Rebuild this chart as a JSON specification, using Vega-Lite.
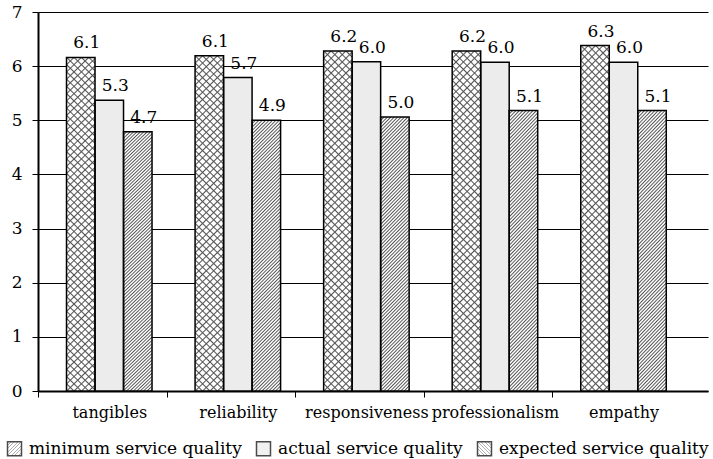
{
"$schema":"https://vega.github.io/schema/vega-lite/v6.json",
"width":670,"height":379,
"autosize":"none",
"padding":{"left":38,"top":12,"right":5,"bottom":68},
"background":"white",
"config":{"font":"DejaVu Serif","view":{"stroke":null},
"axis":{"labelFont":"DejaVu Serif","labelFontSize":17,"labelColor":"black","domainColor":"black","tickColor":"black","gridColor":"black","title":null}},
"params":[{"name":"st","value":[
{"offset":0,"color":"#555"},{"offset":0.004,"color":"#5550"},{"offset":0.016,"color":"#5550"},
{"offset":0.02,"color":"#555"},{"offset":0.024,"color":"#5550"},{"offset":0.036,"color":"#5550"},
{"offset":0.04,"color":"#555"},{"offset":0.044,"color":"#5550"},{"offset":0.056,"color":"#5550"},
{"offset":0.06,"color":"#555"},{"offset":0.064,"color":"#5550"},{"offset":0.076,"color":"#5550"},
{"offset":0.08,"color":"#555"},{"offset":0.084,"color":"#5550"},{"offset":0.096,"color":"#5550"},
{"offset":0.1,"color":"#555"},{"offset":0.104,"color":"#5550"},{"offset":0.116,"color":"#5550"},
{"offset":0.12,"color":"#555"},{"offset":0.124,"color":"#5550"},{"offset":0.136,"color":"#5550"},
{"offset":0.14,"color":"#555"},{"offset":0.144,"color":"#5550"},{"offset":0.156,"color":"#5550"},
{"offset":0.16,"color":"#555"},{"offset":0.164,"color":"#5550"},{"offset":0.176,"color":"#5550"},
{"offset":0.18,"color":"#555"},{"offset":0.184,"color":"#5550"},{"offset":0.196,"color":"#5550"},
{"offset":0.2,"color":"#555"},{"offset":0.204,"color":"#5550"},{"offset":0.216,"color":"#5550"},
{"offset":0.22,"color":"#555"},{"offset":0.224,"color":"#5550"},{"offset":0.236,"color":"#5550"},
{"offset":0.24,"color":"#555"},{"offset":0.244,"color":"#5550"},{"offset":0.256,"color":"#5550"},
{"offset":0.26,"color":"#555"},{"offset":0.264,"color":"#5550"},{"offset":0.276,"color":"#5550"},
{"offset":0.28,"color":"#555"},{"offset":0.284,"color":"#5550"},{"offset":0.296,"color":"#5550"},
{"offset":0.3,"color":"#555"},{"offset":0.304,"color":"#5550"},{"offset":0.316,"color":"#5550"},
{"offset":0.32,"color":"#555"},{"offset":0.324,"color":"#5550"},{"offset":0.336,"color":"#5550"},
{"offset":0.34,"color":"#555"},{"offset":0.344,"color":"#5550"},{"offset":0.356,"color":"#5550"},
{"offset":0.36,"color":"#555"},{"offset":0.364,"color":"#5550"},{"offset":0.376,"color":"#5550"},
{"offset":0.38,"color":"#555"},{"offset":0.384,"color":"#5550"},{"offset":0.396,"color":"#5550"},
{"offset":0.4,"color":"#555"},{"offset":0.404,"color":"#5550"},{"offset":0.416,"color":"#5550"},
{"offset":0.42,"color":"#555"},{"offset":0.424,"color":"#5550"},{"offset":0.436,"color":"#5550"},
{"offset":0.44,"color":"#555"},{"offset":0.444,"color":"#5550"},{"offset":0.456,"color":"#5550"},
{"offset":0.46,"color":"#555"},{"offset":0.464,"color":"#5550"},{"offset":0.476,"color":"#5550"},
{"offset":0.48,"color":"#555"},{"offset":0.484,"color":"#5550"},{"offset":0.496,"color":"#5550"},
{"offset":0.5,"color":"#555"},{"offset":0.504,"color":"#5550"},{"offset":0.516,"color":"#5550"},
{"offset":0.52,"color":"#555"},{"offset":0.524,"color":"#5550"},{"offset":0.536,"color":"#5550"},
{"offset":0.54,"color":"#555"},{"offset":0.544,"color":"#5550"},{"offset":0.556,"color":"#5550"},
{"offset":0.56,"color":"#555"},{"offset":0.564,"color":"#5550"},{"offset":0.576,"color":"#5550"},
{"offset":0.58,"color":"#555"},{"offset":0.584,"color":"#5550"},{"offset":0.596,"color":"#5550"},
{"offset":0.6,"color":"#555"},{"offset":0.604,"color":"#5550"},{"offset":0.616,"color":"#5550"},
{"offset":0.62,"color":"#555"},{"offset":0.624,"color":"#5550"},{"offset":0.636,"color":"#5550"},
{"offset":0.64,"color":"#555"},{"offset":0.644,"color":"#5550"},{"offset":0.656,"color":"#5550"},
{"offset":0.66,"color":"#555"},{"offset":0.664,"color":"#5550"},{"offset":0.676,"color":"#5550"},
{"offset":0.68,"color":"#555"},{"offset":0.684,"color":"#5550"},{"offset":0.696,"color":"#5550"},
{"offset":0.7,"color":"#555"},{"offset":0.704,"color":"#5550"},{"offset":0.716,"color":"#5550"},
{"offset":0.72,"color":"#555"},{"offset":0.724,"color":"#5550"},{"offset":0.736,"color":"#5550"},
{"offset":0.74,"color":"#555"},{"offset":0.744,"color":"#5550"},{"offset":0.756,"color":"#5550"},
{"offset":0.76,"color":"#555"},{"offset":0.764,"color":"#5550"},{"offset":0.776,"color":"#5550"},
{"offset":0.78,"color":"#555"},{"offset":0.784,"color":"#5550"},{"offset":0.796,"color":"#5550"},
{"offset":0.8,"color":"#555"},{"offset":0.804,"color":"#5550"},{"offset":0.816,"color":"#5550"},
{"offset":0.82,"color":"#555"},{"offset":0.824,"color":"#5550"},{"offset":0.836,"color":"#5550"},
{"offset":0.84,"color":"#555"},{"offset":0.844,"color":"#5550"},{"offset":0.856,"color":"#5550"},
{"offset":0.86,"color":"#555"},{"offset":0.864,"color":"#5550"},{"offset":0.876,"color":"#5550"},
{"offset":0.88,"color":"#555"},{"offset":0.884,"color":"#5550"},{"offset":0.896,"color":"#5550"},
{"offset":0.9,"color":"#555"},{"offset":0.904,"color":"#5550"},{"offset":0.916,"color":"#5550"},
{"offset":0.92,"color":"#555"},{"offset":0.924,"color":"#5550"},{"offset":0.936,"color":"#5550"},
{"offset":0.94,"color":"#555"},{"offset":0.944,"color":"#5550"},{"offset":0.956,"color":"#5550"},
{"offset":0.96,"color":"#555"},{"offset":0.964,"color":"#5550"},{"offset":0.976,"color":"#5550"},
{"offset":0.98,"color":"#555"},{"offset":0.984,"color":"#5550"},{"offset":0.996,"color":"#5550"},
{"offset":1,"color":"#555"}
]},
{"name":"gmin","value":{"id":"gmin","gradient":"linear","x1":0,"y1":0,"x2":1,"y2":1,"stops":[{"offset":0,"color":"#555"},{"offset":0.025,"color":"#fff"},{"offset":0.1,"color":"#fff"},{"offset":0.125,"color":"#555"},{"offset":0.15,"color":"#fff"},{"offset":0.225,"color":"#fff"},{"offset":0.25,"color":"#555"},{"offset":0.275,"color":"#fff"},{"offset":0.35,"color":"#fff"},{"offset":0.375,"color":"#555"},{"offset":0.4,"color":"#fff"},{"offset":0.475,"color":"#fff"},{"offset":0.5,"color":"#555"},{"offset":0.525,"color":"#fff"},{"offset":0.6,"color":"#fff"},{"offset":0.625,"color":"#555"},{"offset":0.65,"color":"#fff"},{"offset":0.725,"color":"#fff"},{"offset":0.75,"color":"#555"},{"offset":0.775,"color":"#fff"},{"offset":0.85,"color":"#fff"},{"offset":0.875,"color":"#555"},{"offset":0.9,"color":"#fff"},{"offset":0.975,"color":"#fff"},{"offset":1,"color":"#555"}]}},
{"name":"gexp","value":{"id":"gexp","gradient":"linear","x1":0,"y1":1,"x2":1,"y2":0,"stops":[{"offset":0,"color":"#555"},{"offset":0.025,"color":"#fff"},{"offset":0.1,"color":"#fff"},{"offset":0.125,"color":"#555"},{"offset":0.15,"color":"#fff"},{"offset":0.225,"color":"#fff"},{"offset":0.25,"color":"#555"},{"offset":0.275,"color":"#fff"},{"offset":0.35,"color":"#fff"},{"offset":0.375,"color":"#555"},{"offset":0.4,"color":"#fff"},{"offset":0.475,"color":"#fff"},{"offset":0.5,"color":"#555"},{"offset":0.525,"color":"#fff"},{"offset":0.6,"color":"#fff"},{"offset":0.625,"color":"#555"},{"offset":0.65,"color":"#fff"},{"offset":0.725,"color":"#fff"},{"offset":0.75,"color":"#555"},{"offset":0.775,"color":"#fff"},{"offset":0.85,"color":"#fff"},{"offset":0.875,"color":"#555"},{"offset":0.9,"color":"#fff"},{"offset":0.975,"color":"#fff"},{"offset":1,"color":"#555"}]}}
],
"data":{"values":[
{"aspect":"tangibles","series":"expected service quality","value":6.16,"label":"6.1"},
{"aspect":"tangibles","series":"actual service quality","value":5.37,"label":"5.3"},
{"aspect":"tangibles","series":"minimum service quality","value":4.79,"label":"4.7"},
{"aspect":"reliability","series":"expected service quality","value":6.19,"label":"6.1"},
{"aspect":"reliability","series":"actual service quality","value":5.79,"label":"5.7"},
{"aspect":"reliability","series":"minimum service quality","value":5.0,"label":"4.9"},
{"aspect":"responsiveness","series":"expected service quality","value":6.28,"label":"6.2"},
{"aspect":"responsiveness","series":"actual service quality","value":6.08,"label":"6.0"},
{"aspect":"responsiveness","series":"minimum service quality","value":5.06,"label":"5.0"},
{"aspect":"professionalism","series":"expected service quality","value":6.28,"label":"6.2"},
{"aspect":"professionalism","series":"actual service quality","value":6.07,"label":"6.0"},
{"aspect":"professionalism","series":"minimum service quality","value":5.18,"label":"5.1"},
{"aspect":"empathy","series":"expected service quality","value":6.38,"label":"6.3"},
{"aspect":"empathy","series":"actual service quality","value":6.07,"label":"6.0"},
{"aspect":"empathy","series":"minimum service quality","value":5.18,"label":"5.1"}
]},
"encoding":{
"x":{"field":"aspect","type":"nominal","scale":{"domain":["tangibles","reliability","responsiveness","professionalism","empathy"],"paddingInner":0,"paddingOuter":0.1058,"align":0.257},
"axis":{"title":null,"labelAngle":0,"bandPosition":0,"tickOffset":-7,"labelOffset":7,"tickSize":6,"domainWidth":2,"labelPadding":7,"labelFontSize":16,"grid":false}},
"xOffset":{"field":"series","type":"nominal","scale":{"domain":["expected service quality","actual service quality","minimum service quality"],"paddingInner":0,"paddingOuter":0.755}},
"y":{"field":"value","type":"quantitative","scale":{"domain":[0,7],"nice":false},
"axis":{"title":null,"values":[0,1,2,3,4,5,6,7],"tickSize":6,"domainWidth":2,"labelPadding":10,"grid":true,"gridWidth":1,"gridOpacity":1}}
},
"layer":[
{"transform":[{"filter":"datum.aspect === 'tangibles' && datum.series === 'minimum service quality'"}],
 "mark":{"type":"bar","strokeWidth":0,"fill":{"expr":"gmin"}}},
{"transform":[{"filter":"datum.aspect === 'tangibles' && datum.series === 'expected service quality'"}],
 "mark":{"type":"bar","strokeWidth":0,"fill":{"expr":"gexp"}}},
{"mark":{"type":"bar","strokeWidth":0},
 "encoding":{"fill":{"condition":{"test":"datum.series === 'actual service quality'","value":"#ececec"},"value":"white"}}},
{"transform":[{"filter":"datum.series === 'expected service quality'"}],
 "mark":{"type":"bar","strokeWidth":0,"fill":{"expr":"{gradient:'linear',x1:0,y1:1,x2:0.0905,y2:-0.08,stops:st}"}}},
{"transform":[{"filter":"datum.series === 'expected service quality'"}],
 "mark":{"type":"bar","strokeWidth":0,"fill":{"expr":"{gradient:'linear',x1:0,y1:0,x2:0.0905,y2:1.08,stops:st}"}}},
{"transform":[{"filter":"datum.series === 'minimum service quality'"}],
 "mark":{"type":"bar","strokeWidth":0,"fill":{"expr":"{gradient:'linear',x1:0,y1:0,x2:0.132,y2:1.25,stops:st}"}}},
{"transform":[{"filter":"datum.series === 'minimum service quality'"}],
 "mark":{"type":"bar","strokeWidth":0,"fill":{"expr":"{gradient:'linear',x1:0,y1:-0.01264,x2:0.132,y2:1.2374,stops:st}"}}},
{"mark":{"type":"bar","fill":"transparent","stroke":"black","strokeWidth":1.5}},
{"mark":{"type":"text","dx":6,"dy":-9,"baseline":"alphabetic","fontSize":17,"font":"DejaVu Serif","color":"black"},
 "encoding":{"text":{"field":"label"}}},
{"transform":[{"filter":"false"}],
 "mark":{"type":"square"},
 "encoding":{"fill":{"field":"series","type":"nominal",
  "scale":{"domain":["minimum service quality","actual service quality","expected service quality"],
   "range":["url(#gmin)","#ececec","url(#gexp)"]},
  "legend":{"orient":"none","legendX":-32,"legendY":428,"direction":"horizontal","title":null,"padding":0,
   "labelFont":"DejaVu Serif","labelFontSize":17,"labelColor":"black","labelLimit":400,"labelOffset":6,
   "symbolSize":196,"symbolType":"square","symbolStrokeColor":"black","symbolStrokeWidth":1.5,"columnPadding":11,
   "encode":{"symbols":{"update":{"stroke":{"value":"black"},"strokeWidth":{"value":1.5},"opacity":{"value":1}}}}}}}}
]
}
